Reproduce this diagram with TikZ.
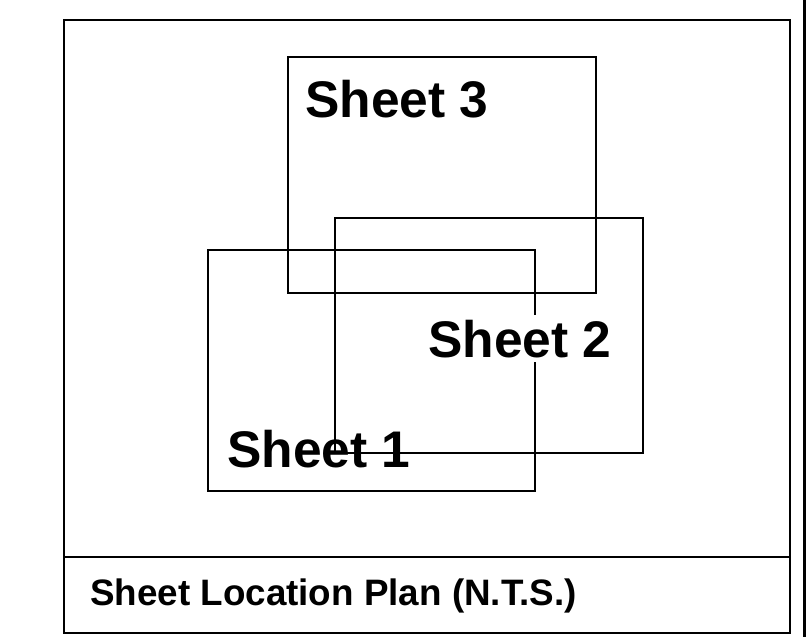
\documentclass[tikz,border=0pt]{standalone}
\usepackage{fontspec}
\setmainfont{Liberation Sans}
\begin{document}
\begin{tikzpicture}[x=1pt,y=-1pt,
  sheetbox/.style={draw=black,line width=2pt},
  frame/.style={draw=black,line width=2.6pt},
  bigl/.style={font=\bfseries\fontsize{51.5}{60}\selectfont,inner sep=0pt,anchor=base west},
  smalll/.style={font=\bfseries\fontsize{36.8}{42}\selectfont,inner sep=0pt,anchor=base west}]
\useasboundingbox (0,0) rectangle (809,637);
% outer frame
\draw[frame] (64,20) rectangle (790,633);
\draw[frame] (64,557) -- (790,557);
\draw[line width=2.4pt] (804.5,0) -- (804.5,637);
% sheet 1
\draw[sheetbox] (208,250) rectangle (535,491);
\node[bigl] (s1) at (227,467) {Sheet 1};
% sheet 3
\draw[sheetbox] (288,57) rectangle (596,293);
\node[bigl] (s3) at (305,117) {Sheet 3};
% sheet 2
\draw[sheetbox] (335,218) rectangle (643,453);
\node[bigl,fill=white,inner sep=5pt,text height=37pt,text depth=0pt] (s2) at (423,357) {Sheet 2};
% caption
\node[smalll] (cap) at (90,605) {Sheet Location Plan (N.T.S.)};
\end{tikzpicture}
\end{document}
